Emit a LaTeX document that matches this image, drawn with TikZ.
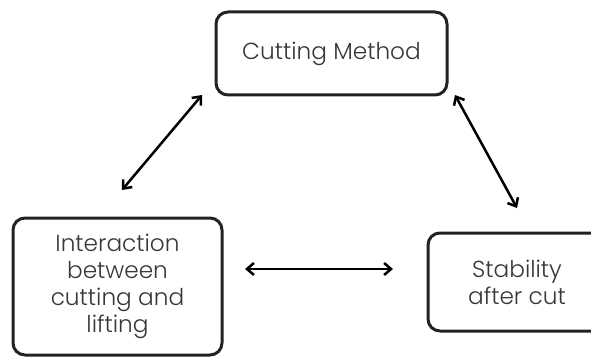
\documentclass[tikz,border=0pt]{standalone}
\usepackage{fontspec}
\setmainfont{Poppins}[UprightFont=* Light]
\usetikzlibrary{arrows.meta,positioning}
\definecolor{boxline}{RGB}{34,34,34}
\definecolor{boxtext}{RGB}{55,55,55}

\tikzset{
  topicbox/.style={draw=boxline, line width=3pt, rounded corners=12pt, align=center,
    text=boxtext, font=\fontsize{23.2}{27}\selectfont, inner sep=0pt},
  linkarrow/.style={{Straight Barb[length=7pt,width=12pt]}-{Straight Barb[length=7pt,width=12pt]}, line width=2.5pt, black}
}

\begin{document}
\begin{tikzpicture}[x=1pt, y=-1pt]
        \useasboundingbox (0,0) rectangle (591,358);
        \node[topicbox, minimum width=231pt, minimum height=83pt] (method) at (331.5,53.5) {Cutting Method};
        \node[topicbox, minimum width=209pt, minimum height=137pt] (interact) at (117.5,286.5) {\raisebox{-4pt}{\begin{tabular}{@{}c@{}}Interaction\\between\\cutting and\\lifting\end{tabular}}};
        \node[topicbox, minimum width=178pt, minimum height=98pt] (stable) at (517,282) {Stability\\after cut};

        % arrows between the three topics
        \coordinate (a1) at (202,95);  \coordinate (a2) at (122,190);
        \coordinate (b1) at (455,95);  \coordinate (b2) at (517,208);
        \coordinate (c1) at (245,269); \coordinate (c2) at (393,269);
        \draw[linkarrow] (a1) -- (a2);
        \draw[linkarrow] (b1) -- (b2);
        \draw[linkarrow] (c1) -- (c2);
      \end{tikzpicture}
\end{document}
